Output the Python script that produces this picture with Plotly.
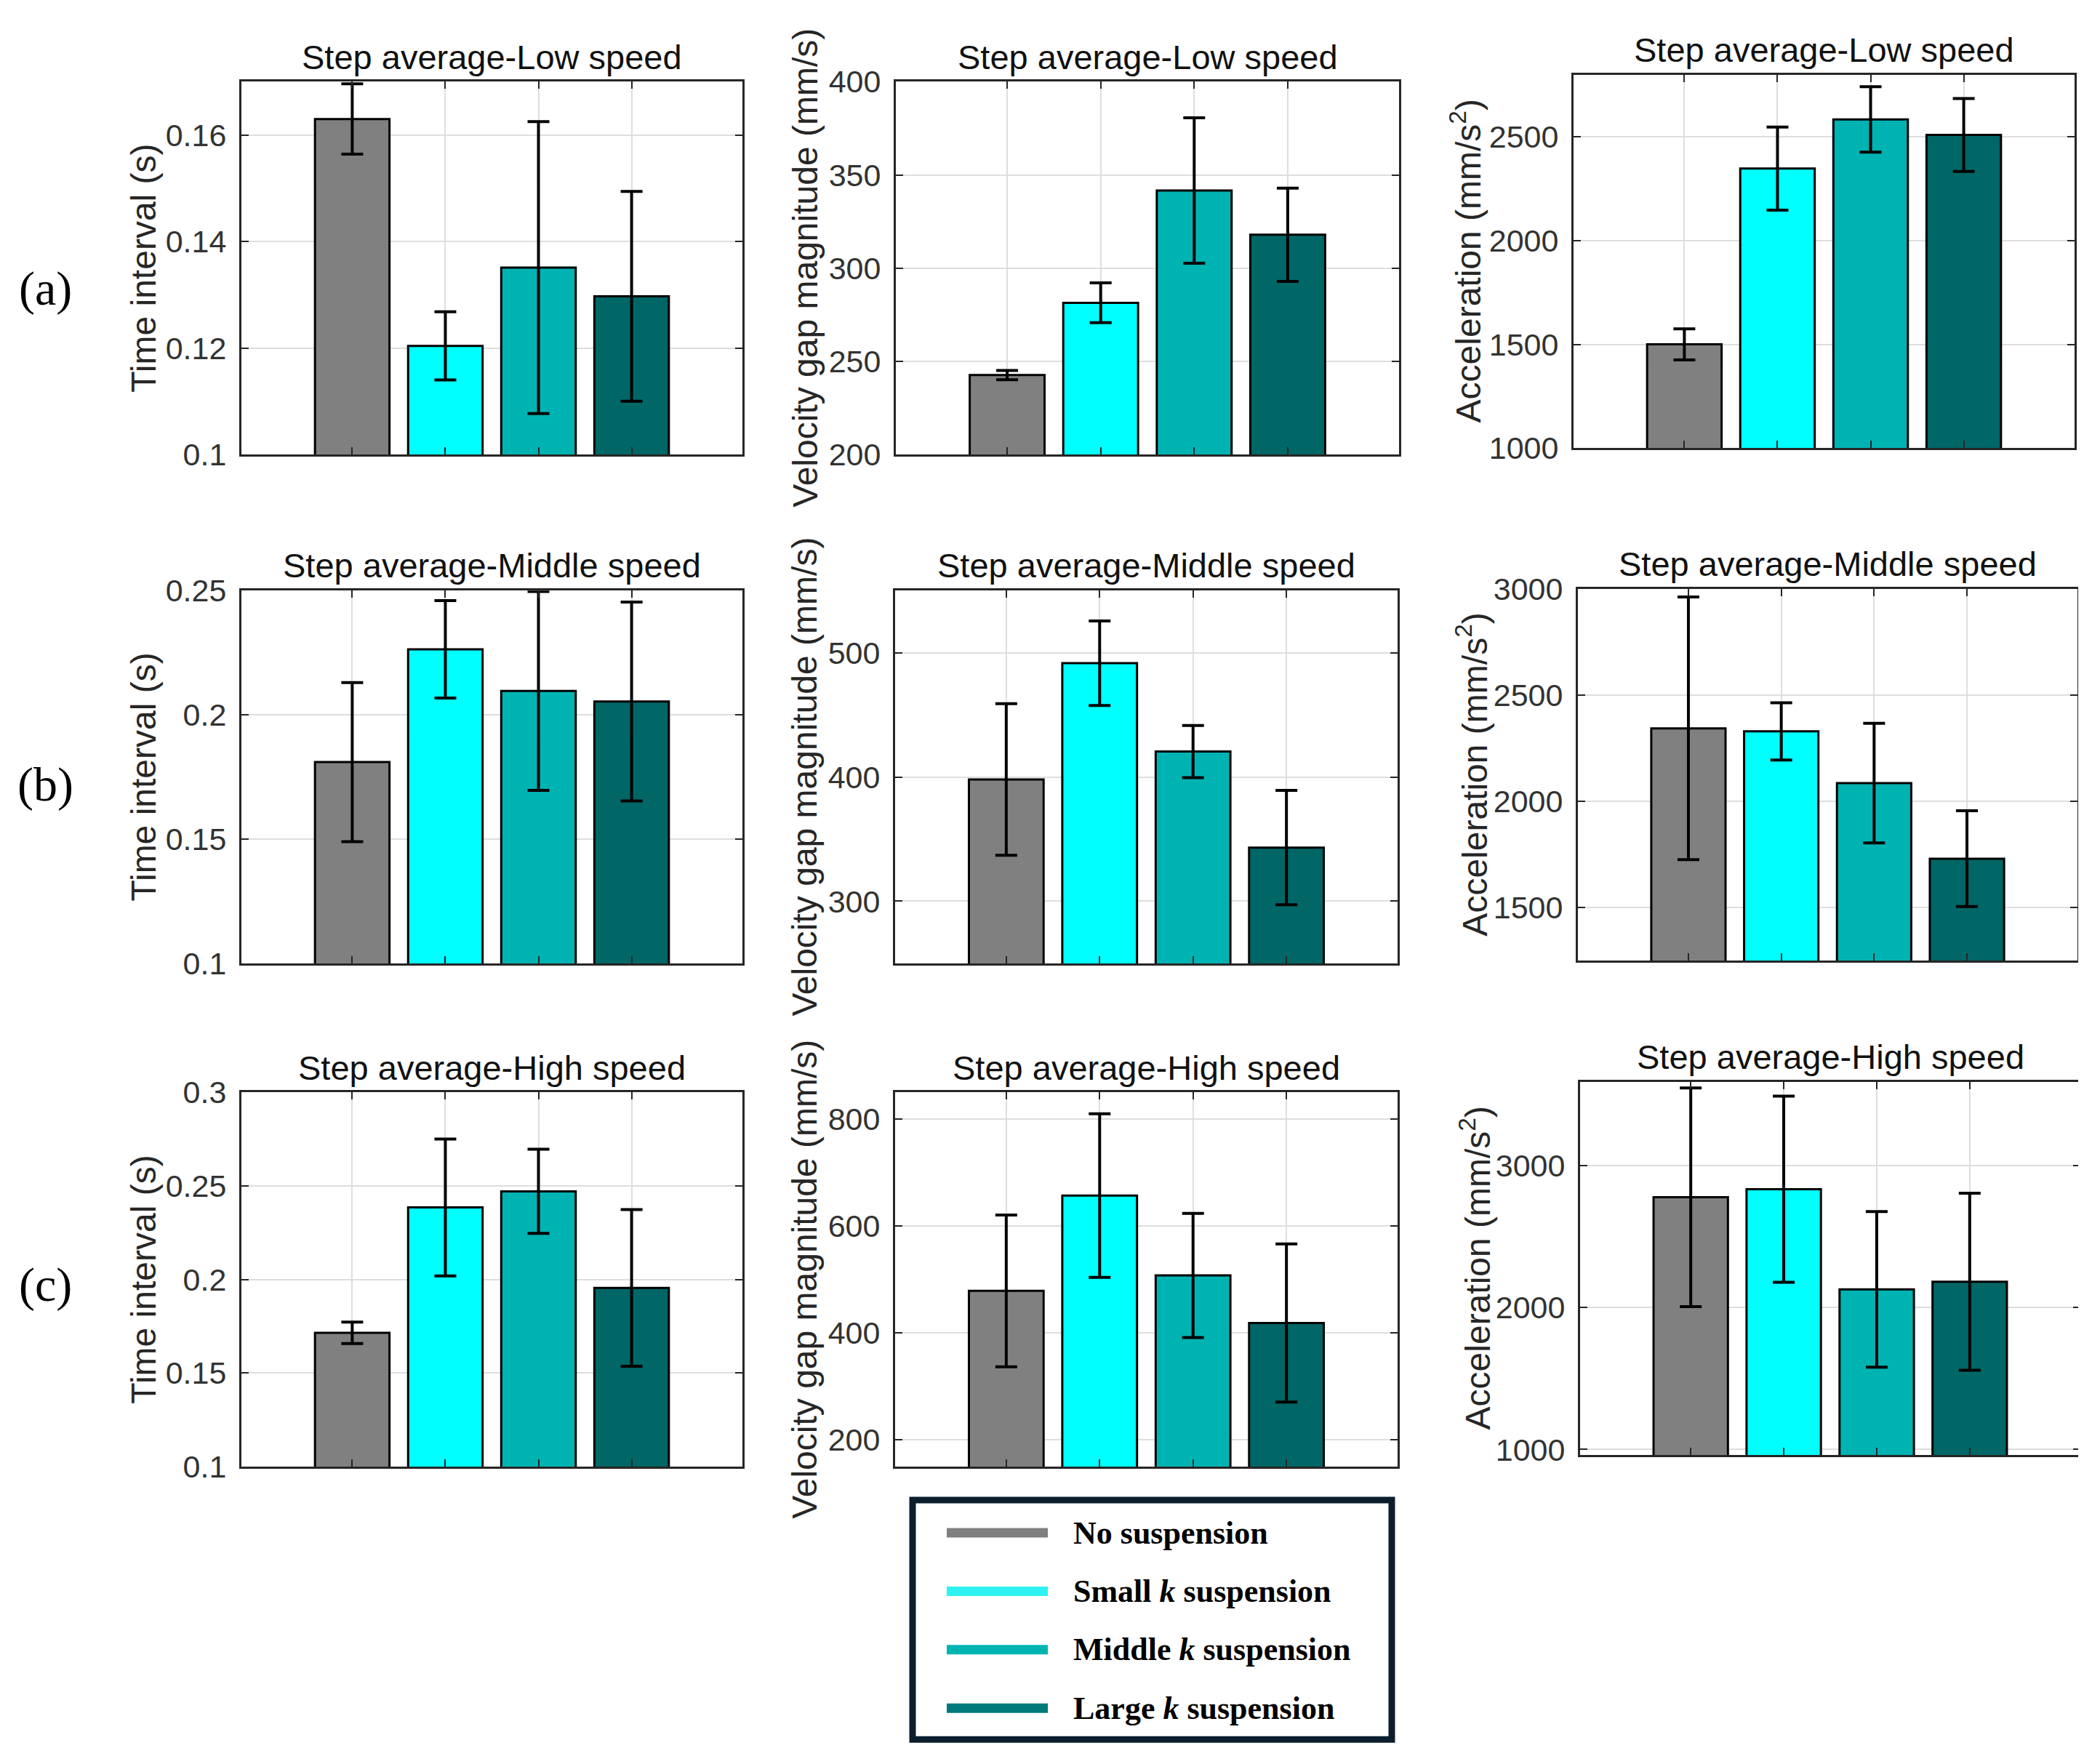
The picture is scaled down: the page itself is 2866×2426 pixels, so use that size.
import plotly.graph_objects as go

W, H = 2866, 2426

# ---- data ----
groups = ["No suspension", "Small k suspension", "Middle k suspension", "Large k suspension"]
bar_x = [1, 2, 3, 4]

time_low = [0.163, 0.1204, 0.1351, 0.1297]
time_low_err = [0.0066, 0.0064, 0.0274, 0.0197]
vel_low = [242.6, 281.4, 341.6, 317.9]
vel_low_err = [2.5, 10.7, 39.0, 25.0]
acc_low = [1500, 2347, 2584, 2509]
acc_low_err = [75, 200, 158, 176]

time_mid = [0.181, 0.2264, 0.2096, 0.2054]
time_mid_err = [0.032, 0.0196, 0.040, 0.040]
vel_mid = [398, 491.6, 420.5, 343.2]
vel_mid_err = [61, 34, 21, 46]
acc_mid = [2344, 2330, 2086, 1730]
acc_mid_err = [619, 135, 282, 226]

time_high = [0.1715, 0.2385, 0.2471, 0.1955]
time_high_err = [0.0057, 0.0366, 0.0225, 0.0419]
vel_high = [478.7, 657, 507.5, 418.6]
vel_high_err = [142, 153, 116, 148]
acc_high = [2776, 2833, 2127, 2181]
acc_high_err = [770, 655, 548, 623]

# y ticks per panel
time_low_ticks = [0.1, 0.12, 0.14, 0.16]
vel_low_ticks = [200, 250, 300, 350, 400]
acc_low_ticks = [1000, 1500, 2000, 2500]
time_mid_ticks = [0.1, 0.15, 0.2, 0.25]
vel_mid_ticks = [300, 400, 500]
acc_mid_ticks = [1500, 2000, 2500, 3000]
time_high_ticks = [0.1, 0.15, 0.2, 0.25, 0.3]
vel_high_ticks = [200, 400, 600, 800]
acc_high_ticks = [1000, 2000, 3000]

bar_colors = ["#808080", "#00ffff", "#00b3b3", "#006666"]
legend_colors = ["#808080", "#2ef2f2", "#00b4b2", "#007a7a"]
legend_labels = ["<b>No suspension</b>", "<b>Small <i>k</i> suspension</b>",
                 "<b>Middle <i>k</i> suspension</b>", "<b>Large <i>k</i> suspension</b>"]

TIME_T = "Time interval (s)"
VEL_T = "Velocity gap magnitude (mm/s)"
ACC_T = "Acceleration (mm/s<sup>2</sup>)"

# panel: values, errors, title, ytitle, range, ticks, box(left,right,top,bottom) in px, ytitle offset
panels = [
    (time_low, time_low_err, "Step average-Low speed", TIME_T, [0.1, 0.17], time_low_ticks, (324, 1013, 82, 605), 134),
    (vel_low, vel_low_err, "Step average-Low speed", VEL_T, [200, 400], vel_low_ticks, (1224, 1916, 82, 605), 124),
    (acc_low, acc_low_err, "Step average-Low speed", ACC_T, [1000, 2800], acc_low_ticks, (2156, 2845, 72, 596), 148),
    (time_mid, time_mid_err, "Step average-Middle speed", TIME_T, [0.1, 0.25], time_mid_ticks, (324, 1013, 796, 1319), 134),
    (vel_mid, vel_mid_err, "Step average-Middle speed", VEL_T, [250, 550], vel_mid_ticks, (1223, 1914, 796, 1319), 124),
    (acc_mid, acc_mid_err, "Step average-Middle speed", ACC_T, [1250, 3000], acc_mid_ticks, (2162, 2849, 794, 1315), 146),
    (time_high, time_high_err, "Step average-High speed", TIME_T, [0.1, 0.3], time_high_ticks, (324, 1013, 1500, 2025), 134),
    (vel_high, vel_high_err, "Step average-High speed", VEL_T, [150, 850], vel_high_ticks, (1223, 1914, 1500, 2025), 124),
    (acc_high, acc_high_err, "Step average-High speed", ACC_T, [960, 3590], acc_high_ticks, (2165, 2853, 1485, 2009), 144),
]


def px(x):
    return x / W


def py(y):
    return 1 - y / H


fig = go.Figure()
layout = dict(width=W, height=H, margin=dict(l=0, r=0, t=0, b=0),
              paper_bgcolor="white", plot_bgcolor="white", showlegend=False,
              font=dict(family="Liberation Sans, Arial", color="#262626"))
annotations = []
shapes = []

for i, (vals, errs, title, ytitle, yrange, yticks, box, yoff) in enumerate(panels):
    n = i + 1
    sfx = "" if n == 1 else str(n)
    left, right, top, bottom = box
    fig.add_trace(go.Bar(
        x=bar_x, y=vals, width=0.8,
        marker=dict(color=bar_colors, line=dict(color="black", width=3)),
        error_y=dict(type="data", array=errs, color="black", thickness=4, width=15),
        xaxis="x" + sfx, yaxis="y" + sfx, hoverinfo="skip"))
    common = dict(showline=True, linecolor="#262626", linewidth=3, mirror="ticks",
                  ticks="inside", ticklen=10, tickwidth=2, tickcolor="#262626",
                  showgrid=True, gridcolor="#dedede", gridwidth=2, zeroline=False)
    layout["xaxis" + sfx] = dict(common, domain=[px(left), px(right)], anchor="y" + sfx,
                                 range=[-0.19, 5.19], tickvals=bar_x, showticklabels=False)
    layout["yaxis" + sfx] = dict(common, domain=[py(bottom), py(top)], anchor="x" + sfx,
                                 range=yrange, tickvals=yticks,
                                 ticktext=[("%g" % t) for t in yticks],
                                 tickfont=dict(size=43, color="#333333"), ticklabelstandoff=9)
    annotations.append(dict(xref="paper", yref="paper", x=px((left + right) / 2), y=py(top - 35),
                            text=title, showarrow=False, xanchor="center", yanchor="middle",
                            font=dict(size=47, color="#111111")))
    annotations.append(dict(xref="paper", yref="paper", x=px(left - yoff), y=py((top + bottom) / 2),
                            text=ytitle, showarrow=False, textangle=-90, xanchor="center",
                            yanchor="middle", font=dict(size=48, color="#262626")))

# row labels
for lab, yy in [("(a)", 372), ("(b)", 1068), ("(c)", 1770)]:
    annotations.append(dict(xref="paper", yref="paper", x=px(54), y=py(yy), text=lab,
                            showarrow=False, xanchor="center", yanchor="middle",
                            font=dict(family="Liberation Serif, Times New Roman", size=66, color="black")))

# legend box
shapes.append(dict(type="rect", xref="paper", yref="paper", x0=px(1247), x1=px(1906),
                   y0=py(2408), y1=py(2072), line=dict(color="#0c1e2e", width=9),
                   fillcolor="white"))
for k, (lab, col) in enumerate(zip(legend_labels, legend_colors)):
    yc = 2118 + 82 * k
    shapes.append(dict(type="line", xref="paper", yref="paper", x0=px(1294), x1=px(1433),
                       y0=py(yc), y1=py(yc), line=dict(color=col, width=13)))
    annotations.append(dict(xref="paper", yref="paper", x=px(1466), y=py(yc), text=lab,
                            showarrow=False, xanchor="left", yanchor="middle",
                            font=dict(family="Liberation Serif, Times New Roman", size=44, color="black")))

layout["annotations"] = annotations
layout["shapes"] = shapes
fig.update_layout(**layout)

fig.write_html("out.html")
